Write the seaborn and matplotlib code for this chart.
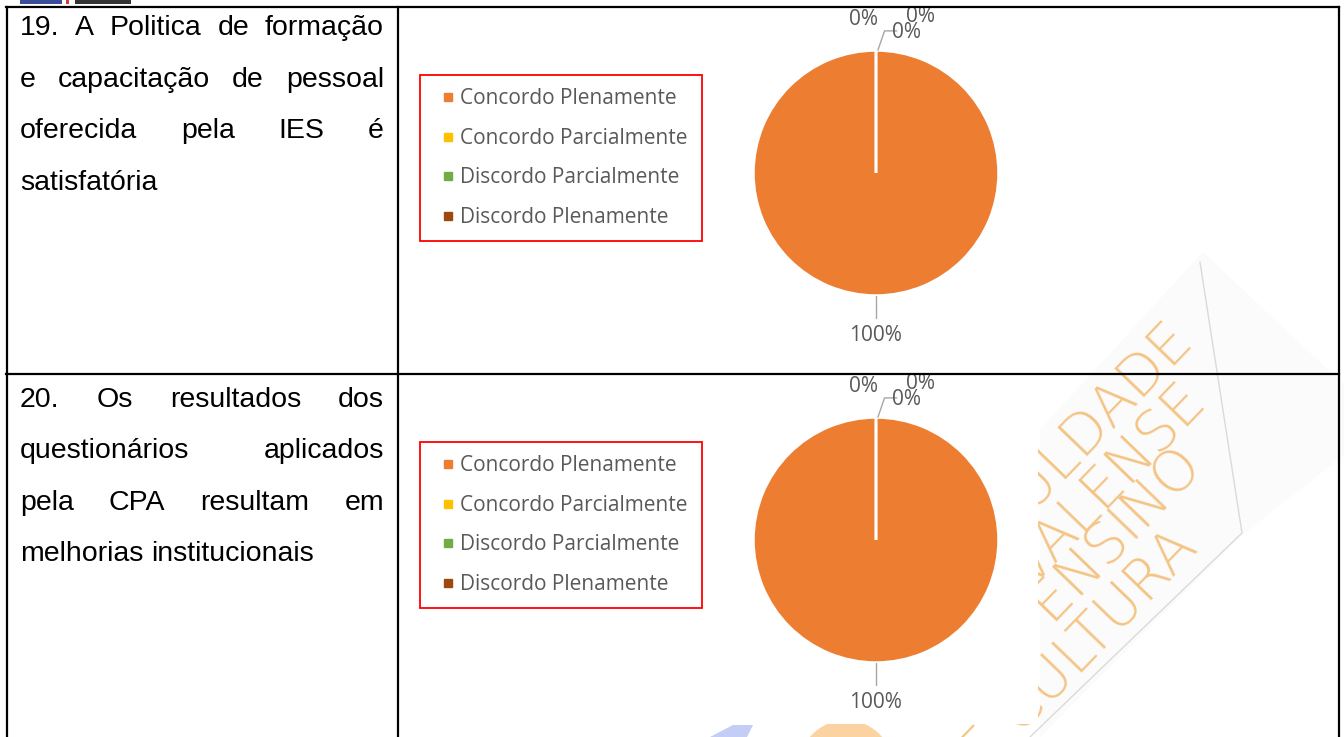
import numpy as np
import pandas as pd
import seaborn as sns
import matplotlib
matplotlib.use("Agg")
import matplotlib.pyplot as plt
from matplotlib.lines import Line2D
from matplotlib.patches import Rectangle, Polygon, Ellipse
from matplotlib.transforms import Affine2D

# ---------------- data ----------------
categories = ["Concordo Plenamente", "Concordo Parcialmente",
              "Discordo Parcialmente", "Discordo Plenamente"]
q19_values = [100, 0, 0, 0]
q20_values = [100, 0, 0, 0]
q19_text = ["19. A Politica de formação", "e capacitação de pessoal",
            "oferecida pela IES é", "satisfatória"]
q20_text = ["20. Os resultados dos", "questionários aplicados",
            "pela CPA resultam em", "melhorias institucionais"]
slice_colors = ["#ED7D31", "#FFC000", "#70AD47", "#9E480E"]
watermark_words = ["FACULDADE", "VALENSE", "DE ENSINO", "E CULTURA"]

W, H = 1344, 737
sns.set_theme(style="white")
palette = sns.color_palette(slice_colors)
plt.rcParams["font.family"] = ["DejaVu Sans"]

fig = plt.figure(figsize=(W / 100, H / 100), dpi=100)
fig.patch.set_facecolor("white")
T = Affine2D().scale(1 / W, -1 / H).translate(0, 1) + fig.transFigure

# ---------------- background watermark ----------------
fig.add_artist(Polygon([(1203, 252), (1344, 385), (1344, 455), (1242, 535),
                        (1040, 737), (1040, 430)], closed=True,
                       facecolor="#fbfbfb", edgecolor="none", transform=T, zorder=-5))
fig.add_artist(Line2D([1200, 1242, 1030], [262, 533, 737], color="#dadada",
                      lw=1.0, transform=T, zorder=-4))
wm_ends = [(1194, 340), (1208, 404), (1205, 469), (1200, 550)]
for word, (ex, ey) in zip(watermark_words, wm_ends):
    fig.text(ex, ey, word, transform=T, rotation=46, rotation_mode="anchor",
             ha="right", va="baseline", fontsize=41, family="DejaVu Sans",
             fontweight=200, color="#F4C485", zorder=-3)
fig.add_artist(Polygon([(733, 725), (753, 725), (747, 737), (710, 737)],
                       closed=True, facecolor="#C3CDF5", edgecolor="none",
                       transform=T, zorder=-3))
fig.add_artist(Ellipse((846, 775), 100, 110, facecolor="#FAD3A0",
                       edgecolor="none", transform=T, zorder=-3))

# white chart image areas
for (x0, y0, x1, y1) in [(399, 9, 1038, 372), (399, 376, 1038, 724)]:
    fig.add_artist(Rectangle((x0, y0), x1 - x0, y1 - y0, facecolor="white",
                             edgecolor="none", transform=T, zorder=-1))

# header fragments above the table
fig.add_artist(Rectangle((20, 0), 42, 4, facecolor="#3B4C9B", edgecolor="none", transform=T, zorder=1))
fig.add_artist(Rectangle((66, 0), 3, 4, facecolor="#D23C3C", edgecolor="none", transform=T, zorder=1))
fig.add_artist(Rectangle((75, 0), 56, 4, facecolor="#333333", edgecolor="none", transform=T, zorder=1))

# ---------------- table grid ----------------
lw = 1.6
for xs, ys in [([6, 1339], [7, 7]), ([6, 1339], [374.5, 374.5]),
               ([6.5, 6.5], [7, 737]), ([397.5, 397.5], [7, 737]),
               ([1338.5, 1338.5], [7, 737])]:
    fig.add_artist(Line2D(xs, ys, color="black", lw=lw, transform=T, zorder=10,
                          solid_capstyle="projecting"))

# ---------------- justified question text ----------------
renderer = fig.canvas.get_renderer()


def draw_justified(lines, baselines, x0=20, x1=384):
    for i, (line, yb) in enumerate(zip(lines, baselines)):
        words = line.split()
        arts = [fig.text(0, yb, w, transform=T, fontsize=20.5,
                         family="Liberation Sans", color="black",
                         ha="left", va="baseline") for w in words]
        widths = [a.get_window_extent(renderer).width for a in arts]
        if i == len(lines) - 1 or len(words) == 1:
            gap = 8.0
        else:
            gap = (x1 - x0 - sum(widths)) / (len(words) - 1)
        x = x0
        for a, wdt in zip(arts, widths):
            a.set_position((x, yb))
            x += wdt + gap


draw_justified(q19_text, [35, 87, 138, 190])
draw_justified(q20_text, [407, 458, 510, 561])

# ---------------- pies ----------------
R = 122.5
zero_label_pos = [(-0.106, 1.257), (0.36, 1.275), (0.253, 1.148)]


def draw_pie(cx, cy, values, legend_box):
    ax = fig.add_axes([(cx - 2 * R) / W, (H - cy - 2 * R) / H, 4 * R / W, 4 * R / H])
    wedges, _ = ax.pie(values, colors=palette, startangle=90, counterclock=False,
                       radius=1, wedgeprops=dict(edgecolor="white", linewidth=1.8))
    ax.set_xlim(-2, 2)
    ax.set_ylim(-2, 2)
    ax.set_aspect("auto")
    ax.axis("off")
    ax.patch.set_visible(False)
    total = float(sum(values))
    zi = 0
    has_zero = False
    for wdg, v in zip(wedges, values):
        lab = f"{v / total * 100:.0f}%"
        if v > 0:
            ang = np.deg2rad((wdg.theta1 + wdg.theta2) / 2)
            c, s = np.cos(ang), np.sin(ang)
            ax.plot([1.005 * c, 1.184 * c], [1.005 * s, 1.184 * s], color="#A6A6A6",
                    lw=1.0, clip_on=False)
            ax.text(1.33 * c, 1.33 * s, lab, ha="center", va="center",
                    fontsize=15, family="Open Sans", color="#595959", clip_on=False)
        else:
            px, py = zero_label_pos[zi % 3]
            zi += 1
            has_zero = True
            ax.text(px, py, lab, ha="center", va="center", fontsize=15,
                    family="Open Sans", color="#595959", clip_on=False)
    if has_zero:
        ax.plot([0.016, 0.07, 0.17], [1.004, 1.16, 1.16], color="#A6A6A6",
                lw=1.0, clip_on=False)
    handles = [Line2D([], [], marker="s", linestyle="", markersize=5.8,
                      color=col) for col in palette]
    x0, y0, x1, y1 = legend_box
    leg = fig.legend(handles, categories, loc="upper left",
                     bbox_to_anchor=(x0 / W, 1 - y1 / H, (x1 - x0) / W, (y1 - y0) / H),
                     bbox_transform=fig.transFigure, mode="expand",
                     borderaxespad=0, frameon=True, fancybox=False,
                     prop=dict(family="Open Sans", size=15),
                     labelcolor="#595959", handlelength=1.4,
                     handletextpad=-0.11, labelspacing=0.89, borderpad=0.64)
    fr = leg.get_frame()
    fr.set_edgecolor("#FF0000")
    fr.set_linewidth(1.3)
    fr.set_facecolor("white")
    fr.set_alpha(1)
    leg.set_zorder(5)


draw_pie(876, 173, q19_values, (420, 75, 702, 236))
draw_pie(876, 540, q20_values, (420, 442, 702, 603))

fig.savefig("out.png", dpi=100, facecolor="white")
